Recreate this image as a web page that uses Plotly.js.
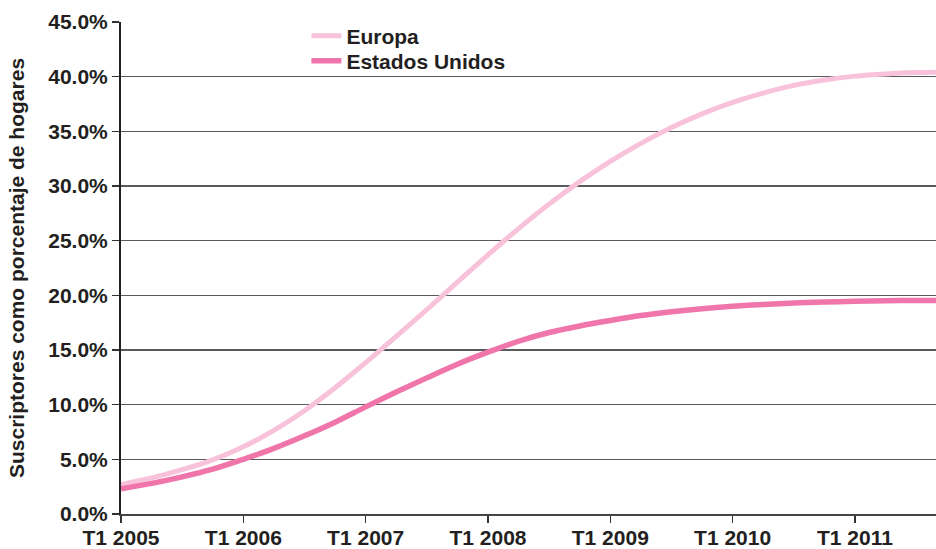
<!DOCTYPE html>
<html>
<head>
<meta charset="utf-8">
<script src="https://cdn.plot.ly/plotly-3.0.1.min.js"></script>
<style>
  html, body { margin: 0; padding: 0; background: #ffffff; }
  #chart { width: 936px; height: 549px; }
</style>
</head>
<body>
<div id="chart"></div>
<script>
// Quarters T1 2005 .. T4 2011
const quarters = [
  "T1 2005","T2 2005","T3 2005","T4 2005",
  "T1 2006","T2 2006","T3 2006","T4 2006",
  "T1 2007","T2 2007","T3 2007","T4 2007",
  "T1 2008","T2 2008","T3 2008","T4 2008",
  "T1 2009","T2 2009","T3 2009","T4 2009",
  "T1 2010","T2 2010","T3 2010","T4 2010",
  "T1 2011","T2 2011","T3 2011","T4 2011"
];
// Subscribers as % of households
const europa = [
  2.7, 3.3, 4.05, 4.95,
  6.15, 7.65, 9.45, 11.55,
  13.85, 16.25, 18.7, 21.2,
  23.7, 26.1, 28.35, 30.4,
  32.25, 33.9, 35.35, 36.6,
  37.65, 38.5, 39.2, 39.7,
  40.05, 40.25, 40.37, 40.42
];
const estadosUnidos = [
  2.3, 2.8, 3.4, 4.1,
  5.0, 6.0, 7.15, 8.4,
  9.8, 11.15, 12.45, 13.7,
  14.8, 15.8, 16.6, 17.2,
  17.7, 18.15, 18.5, 18.78,
  19.0, 19.17, 19.3, 19.39,
  19.45, 19.5, 19.53, 19.53
];
const xTickLabels = ["T1 2005","T1 2006","T1 2007","T1 2008","T1 2009","T1 2010","T1 2011"];
const yTickVals = [0,5,10,15,20,25,30,35,40,45];
const yTickText = yTickVals.map(v => v.toFixed(1) + "%");

const FONT = "Liberation Sans, Arial, Helvetica, sans-serif";
const TXT = "#231f20";

const traces = [
  {
    x: quarters, y: europa, name: "Europa", type: "scatter", mode: "lines",
    line: { color: "#F8C3DA", width: 5, shape: "spline", smoothing: 1 },
    legend: "legend", hoverinfo: "skip"
  },
  {
    x: quarters, y: estadosUnidos, name: "Estados Unidos", type: "scatter", mode: "lines",
    line: { color: "#F075AA", width: 5.5, shape: "spline", smoothing: 1 },
    legend: "legend2", hoverinfo: "skip"
  }
];

const legendFont = { family: FONT, size: 21, color: TXT, weight: "bold" };

const layout = {
  width: 936, height: 549,
  margin: { l: 121, r: 0, t: 22, b: 35, pad: 0 },
  paper_bgcolor: "#ffffff", plot_bgcolor: "#ffffff",
  font: { family: FONT, size: 21, color: TXT },
  showlegend: true,
  legend: {
    x: 0.2275, y: 1.0132, xanchor: "left", yanchor: "top",
    bgcolor: "rgba(0,0,0,0)", borderwidth: 0, font: legendFont
  },
  legend2: {
    x: 0.2275, y: 0.9624, xanchor: "left", yanchor: "top",
    bgcolor: "rgba(0,0,0,0)", borderwidth: 0, font: legendFont
  },
  xaxis: {
    type: "category",
    categoryorder: "array", categoryarray: quarters,
    range: [0, 26.65],
    tickmode: "array", tickvals: xTickLabels, ticktext: xTickLabels,
    ticks: "outside", ticklen: 7, tickwidth: 1.5, tickcolor: "#333",
    ticklabelstandoff: -3,
    showline: true, linecolor: "#444", linewidth: 2,
    showgrid: false, zeroline: false,
    tickfont: { family: FONT, size: 21, color: TXT, weight: "bold" },
    automargin: false
  },
  yaxis: {
    range: [0, 45],
    tickmode: "array", tickvals: yTickVals, ticktext: yTickText,
    ticks: "outside", ticklen: 7, tickwidth: 1.5, tickcolor: "#333",
    showline: true, linecolor: "#222", linewidth: 2,
    showgrid: true, gridcolor: "#5a5a5a", gridwidth: 1.5,
    zeroline: false,
    tickfont: { family: FONT, size: 21, color: TXT, weight: "bold" },
    title: {
      text: "Suscriptores como porcentaje de hogares",
      font: { family: FONT, size: 21, color: TXT, weight: "bold" },
      standoff: 18
    },
    automargin: false
  }
};

Plotly.newPlot("chart", traces, layout, { displayModeBar: false, staticPlot: true });
</script>
</body>
</html>
